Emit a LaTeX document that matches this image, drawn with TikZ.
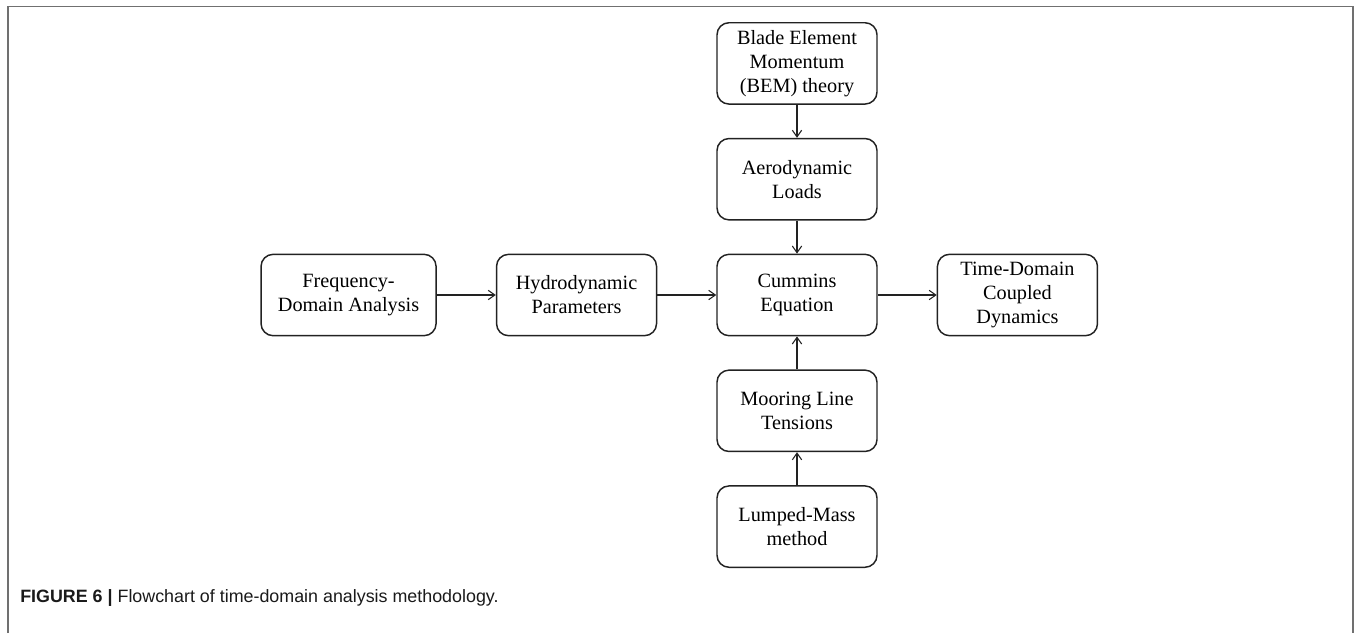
\documentclass[tikz,border=0pt]{standalone}
\usepackage{fontspec}
\setmainfont{Liberation Serif}
\newfontfamily\capfont{Liberation Sans}
\usepackage{tikz}
\usetikzlibrary{arrows.meta,positioning}
\definecolor{boxline}{HTML}{222222}
\definecolor{framegray}{HTML}{707070}
\definecolor{captext}{HTML}{1A1A1A}
\tikzset{
  boxnode/.style={draw=boxline,rounded corners=9pt,line width=1.1pt,align=center,
    minimum width=120pt,minimum height=61pt,inner sep=2pt,
    font=\fontsize{15.2}{18}\selectfont},
  flow/.style={-{Straight Barb[length=5pt,width=7pt]},line width=0.8pt,boxline},
  frameline/.style={framegray,line width=1.1pt}
}

\begin{document}
\begin{tikzpicture}[x=0.75pt,y=-0.75pt,node distance=24.75pt and 44.25pt]
\useasboundingbox (0,0) rectangle (1356,633);
\draw[frameline] (8,633) |- (1353,6.5) -- (1353,633);
% centre column
\node[boxnode] (cummins) at (797,295) {Cummins\\Equation};
\node[boxnode,above=of cummins] (aero) {Aerodynamic\\Loads};
\node[boxnode,above=of aero] (bem) {Blade Element\\Momentum\\(BEM) theory};
\node[boxnode,below=of cummins] (mooring) {Mooring Line\\Tensions};
\node[boxnode,below=of mooring] (lumped) {Lumped-Mass\\method};
% row
\node[boxnode,left=of cummins] (hydro) {Hydrodynamic\\Parameters};
\node[boxnode,left=of hydro,minimum width=131.25pt] (freq) {Frequency-\\Domain Analysis};
\node[boxnode,right=of cummins] (timedom) {Time-Domain\\Coupled\\Dynamics};
\draw[flow] (bem) -- (aero);
\draw[flow] (aero) -- (cummins);
\draw[flow] (lumped) -- (mooring);
\draw[flow] (mooring) -- (cummins);
\draw[flow] (freq) -- (hydro);
\draw[flow] (hydro) -- (cummins);
\draw[flow] (cummins) -- (timedom);
\node[anchor=west,inner sep=0pt,text=captext,font=\capfont\fontsize{13.4}{15}\selectfont] (caption) at (20,598)
  {\textbf{FIGURE 6 |} Flowchart of time-domain analysis methodology.};
\end{tikzpicture}
\end{document}
